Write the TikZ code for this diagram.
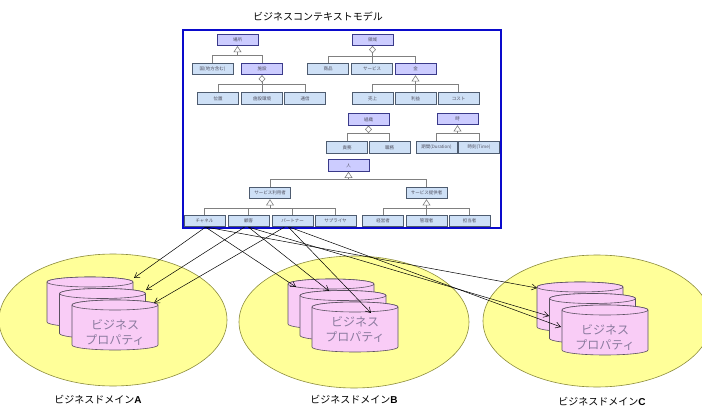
\documentclass[tikz,border=0pt]{standalone}
\usepackage{fontspec}
\newfontfamily\cjk{Noto Sans CJK JP}
\newfontfamily\lat{Liberation Sans}
\usetikzlibrary{calc,arrows.meta}
\definecolor{pfill}{HTML}{CCCCFF}
\definecolor{pdraw}{HTML}{3A3A8A}
\definecolor{cfill}{HTML}{CEE0F6}
\definecolor{cdraw}{HTML}{4E5C70}
\definecolor{frameblue}{HTML}{0A0ACC}
\definecolor{domfill}{HTML}{FFFF99}
\definecolor{domdraw}{HTML}{8C8C3C}
\definecolor{cylfill}{HTML}{F9CCF6}
\definecolor{cyldraw}{HTML}{5A5060}
\definecolor{cyltext}{HTML}{8A7A9E}
\definecolor{boxtext}{HTML}{505060}
\definecolor{treeline}{HTML}{808080}
\tikzset{
 pbox/.style={draw=pdraw, fill=pfill, line width=0.8pt, minimum width=41pt, minimum height=11.5pt, inner sep=0pt, font=\cjk\fontsize{4.5}{5}\selectfont, text=boxtext},
 cbox/.style={pbox, draw=cdraw, fill=cfill},
 tline/.style={draw=treeline, line width=0.6pt},
 symb/.style={draw=treeline, fill=white, line width=0.6pt},
 arr/.style={draw=black, line width=0.5pt, -{Straight Barb[length=5pt,width=6pt]}},
 domellipse/.style={fill=domfill, draw=domdraw, line width=0.6pt},
 cyl/.style={fill=cylfill, draw=cyldraw, line width=0.6pt},
 cyltxt/.style={font=\cjk\fontsize{12}{15}\selectfont, text=cyltext, align=center},
 domlabel/.style={font=\cjk\fontsize{10}{12}\selectfont},
}
\newcommand\TreeTri[3]{%
 \coordinate (bus) at ($(#1.south)+(0,#2)$);
 \foreach \c in {#3}{\draw[tline] (\c.north) |- (bus);}
 \draw[tline] ($(#1.south)+(0,6)$) -- (bus);
 \draw[symb] ($(#1.south)+(0,0.6)$) -- ++(-3.5,5.4) -- ++(7,0) -- cycle;
}
\newcommand\TreeDia[3]{%
 \coordinate (bus) at ($(#1.south)+(0,#2)$);
 \foreach \c in {#3}{\draw[tline] (\c.north) |- (bus);}
 \draw[tline] ($(#1.south)+(0,7)$) -- (bus);
 \draw[symb] ($(#1.south)+(0,0.4)$) -- ++(-3,3.3) -- ++(3,3.3) -- ++(3,-3.3) -- cycle;
}
\newcommand\Cyl[2]{%
 \filldraw[cyl] (#1,#2) -- (#1,#2+40) arc[start angle=180,end angle=0,x radius=43,y radius=5] -- (#1+86,#2) arc[start angle=0,end angle=-180,x radius=43,y radius=5] -- cycle;
 \draw[cyl] (#1+43,#2) ellipse[x radius=43,y radius=5];
}
\begin{document}
\begin{tikzpicture}[x=1pt,y=-1pt]
\useasboundingbox (0,0) rectangle (702,417);
\clip (0,0) rectangle (702,417);
\fill[white] (0,0) rectangle (702,417);

% title
\node[font=\cjk\fontsize{10}{12}\selectfont] (title) at (318,17) {ビジネスコンテキストモデル};

% domains
\draw[domellipse] (113,320) ellipse[x radius=114,y radius=66];
\draw[domellipse] (354,322) ellipse[x radius=115,y radius=66];
\draw[domellipse] (597,321) ellipse[x radius=114,y radius=66];

% cylinders
\Cyl{47}{282}\Cyl{59.5}{293.5}\Cyl{72}{305}
\Cyl{288}{284}\Cyl{300}{295.5}\Cyl{312}{307}
\Cyl{537}{287}\Cyl{549.5}{298.5}\Cyl{562}{310}
\node[cyltxt] (ta) at (115,333) {ビジネス\\プロパティ};
\node[cyltxt] (tb) at (355,330) {ビジネス\\プロパティ};
\node[cyltxt] (tc) at (605,337.5) {ビジネス\\プロパティ};

% domain labels
\node[domlabel] (la) at (98,400) {ビジネスドメイン{\lat\bfseries A}};
\node[domlabel] (lb) at (354,400) {ビジネスドメイン{\lat\bfseries B}};
\node[domlabel] (lc) at (602,402) {ビジネスドメイン{\lat\bfseries C}};

% frame
\draw[draw=frameblue, line width=2.5pt] (183,30) rectangle (501,228);

% boxes
\node[pbox] (basho) at (237.5,39.75) {場所};
\node[pbox] (ryoiki) at (372.5,39.75) {領域};
\node[cbox] (kuni) at (212.5,69) {国(地方含む)};
\node[pbox] (shisetsu) at (262,69) {施設};
\node[cbox] (shohin) at (328,69) {商品};
\node[cbox] (service) at (372,69) {サービス};
\node[pbox] (kane) at (415.5,69) {金};
\node[cbox] (ichi) at (218,98.5) {位置};
\node[cbox] (kankyo) at (262,98.5) {施設環境};
\node[cbox] (tsushin) at (305,98.5) {通信};
\node[cbox] (uriage) at (372.5,98.5) {売上};
\node[cbox] (rieki) at (415.5,98.5) {利益};
\node[cbox] (cost) at (458.5,98.5) {コスト};
\node[pbox] (soshiki) at (368.5,119.5) {組織};
\node[pbox] (toki) at (457.5,119) {時};
\node[cbox] (sekimu) at (347,147.5) {責務};
\node[cbox] (shokumu) at (389.5,147.5) {職務};
\node[cbox] (kikan) at (436.5,147.5) {期間(Duration)};
\node[cbox] (jikoku) at (479,147.5) {時刻(Time)};
\node[pbox] (hito) at (348.5,165.5) {人};
\node[cbox] (riyo) at (270,193) {サービス利用者};
\node[cbox] (teikyo) at (426.5,193) {サービス提供者};
\node[cbox] (chan) at (204.5,221) {チャネル};
\node[cbox] (kokyaku) at (248.5,221) {顧客};
\node[cbox] (partner) at (292.5,221) {パートナー};
\node[cbox] (supplier) at (335.5,221) {サプライヤ};
\node[cbox] (keiei) at (383,221) {経営者};
\node[cbox] (kanri) at (426.5,221) {管理者};
\node[cbox] (tanto) at (469.5,221) {担当者};

% trees
\TreeTri{basho}{9.5}{kuni,shisetsu}
\TreeDia{ryoiki}{10}{shohin,service,kane}
\TreeDia{shisetsu}{9}{ichi,kankyo,tsushin}
\TreeTri{kane}{9}{uriage,rieki,cost}
\TreeDia{soshiki}{8}{sekimu,shokumu}
\TreeTri{toki}{8}{kikan,jikoku}
\TreeTri{hito}{7.5}{riyo,teikyo}
\TreeTri{riyo}{9}{chan,kokyaku,partner,supplier}
\TreeTri{teikyo}{9}{keiei,kanri,tanto}

% arrow ends
\coordinate (a1) at (134,278);
\coordinate (a2) at (146,290);
\coordinate (a3) at (154,303);
\coordinate (b1) at (296,287);
\coordinate (b2) at (329,291);
\coordinate (b3) at (371,313);
\coordinate (c1) at (537,288);
\coordinate (c2) at (549,316);
\coordinate (c3) at (561,327);

\draw[arr] ([xshift=1pt]chan.south) -- (a1);
\draw[arr] ([xshift=-4pt]kokyaku.south) -- (a2);
\draw[arr] ([xshift=-8pt]partner.south) -- (a3);
\draw[arr] ([xshift=1pt]chan.south) -- (b1);
\draw[arr] (kokyaku.south) -- (b2);
\draw[arr] ([xshift=-4pt]partner.south) -- (b3);
\draw[arr] ([xshift=2pt]chan.south) -- (c1);
\draw[arr] (kokyaku.south) -- (c2);
\draw[arr] ([xshift=-3pt]partner.south) -- (c3);
\end{tikzpicture}
\end{document}
